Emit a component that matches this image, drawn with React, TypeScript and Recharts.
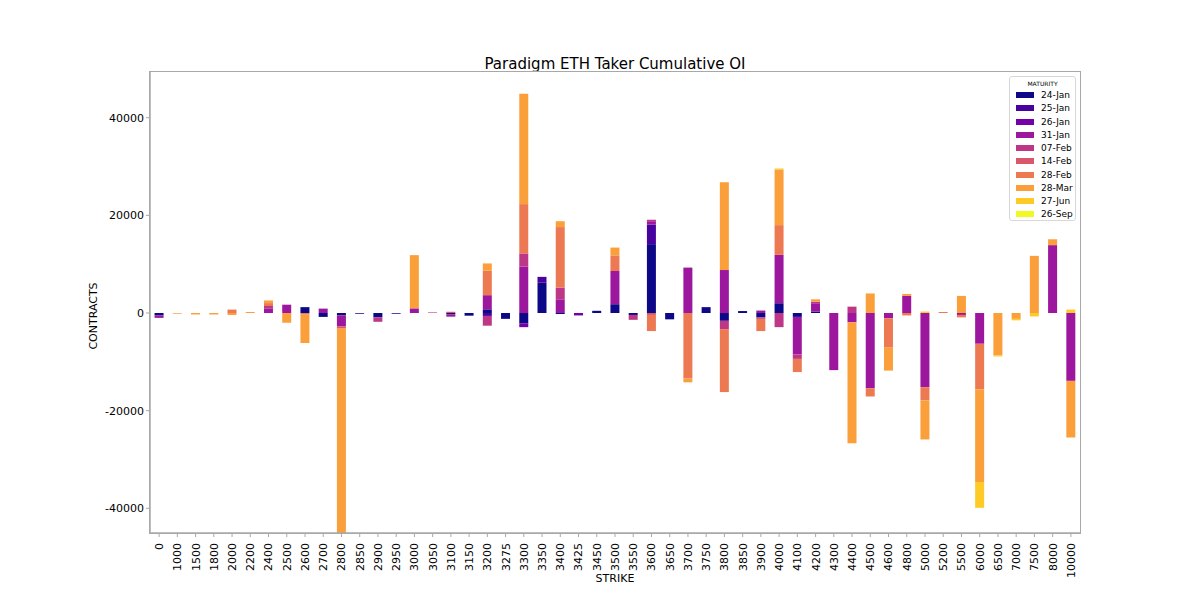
import React from "react";
import { BarChart, Bar, XAxis, YAxis } from "recharts";

const strikes = [
  "0", "1000", "1500", "1800", "2000", "2200", "2400", "2500", "2600", "2700",
  "2800", "2850", "2900", "2950", "3000", "3050", "3100", "3150", "3200", "3275",
  "3300", "3350", "3400", "3425", "3450", "3500", "3550", "3600", "3650", "3700",
  "3750", "3800", "3850", "3900", "4000", "4100", "4200", "4300", "4400", "4500",
  "4600", "4800", "5000", "5200", "5500", "6000", "6500", "7000", "7500", "8000",
  "10000",
];

const jan24 = [
  -500, 0, 0, 0, 0, 0, 0, 0, 1200, -800,
  -500, -150, -900, -150, 0, 0, -300, -550, 750, -1200,
  -2100, 6200, -200, 0, 450, 1800, -400, 14100, -1300, 0,
  1200, -1600, 400, -900, 2000, -800, 300, 0, 0, 0,
  0, 0, 0, 0, 0, 0, 0, 0, 0, 0,
  0,
];
const jan25 = [
  0, 0, 0, 0, 0, 0, 0, 0, 0, 0,
  0, 0, 0, 0, 0, 0, 0, 0, -600, 0,
  0, 1200, 0, 0, 0, 0, 0, 4000, 0, 0,
  0, 0, 0, 0, 0, 0, 0, 0, 0, 0,
  0, 0, 0, 0, 0, 0, 0, 0, 0, 0,
  0,
];
const jan26 = [
  0, 0, 0, 0, 0, 0, 0, 0, 0, 0,
  0, 0, 0, 0, 0, 0, 0, 0, 0, 0,
  -800, 0, 0, -500, 0, 0, 0, 0, 0, 0,
  0, 0, 0, 0, 0, 0, 0, 0, 0, 0,
  0, 0, 0, 0, 0, 0, 0, 0, 0, 0,
  0,
];
const jan31 = [
  -500, 0, 0, 0, 0, 0, 950, 1700, 0, 900,
  -2200, 0, 0, 0, 950, 0, -450, 0, 2900, 0,
  9500, 0, 2800, 0, 0, 6800, 0, 700, 0, 9300,
  0, 8800, 0, 500, 9900, -7700, 1700, -11700, -1900, -15400,
  -1100, 3500, -15200, 0, -400, -6300, 0, 0, 0, 13900,
  -13900,
];
const feb07 = [
  0, 0, 0, 0, 0, 0, 480, 0, 0, 0,
  0, 0, -900, 0, 0, 120, 0, 0, -2000, 0,
  2700, 0, 2400, 0, 0, 0, -1000, 300, 0, 0,
  0, -1700, 0, -300, -2900, -900, 300, 0, 1300, 0,
  0, 0, 0, 0, 0, 0, 0, 0, 0, 0,
  0,
];
const feb14 = [
  0, 0, 0, 0, 0, 0, 0, 0, 0, 0,
  -500, 0, 0, 0, 0, 0, 250, 0, 0, 0,
  0, 0, 0, 0, 0, 0, 0, -400, 0, 0,
  0, 0, 0, 0, 0, 0, 0, 0, 0, 0,
  0, 0, 0, 0, 0, 0, 0, 0, 0, 0,
  0,
];
const feb28 = [
  0, 0, 0, 0, 700, 0, 600, 0, -350, 0,
  0, 0, 0, 0, 0, 0, 0, 0, 5000, 0,
  10100, 0, 12400, 0, 0, 3200, 0, -3300, 0, -13400,
  0, -12900, 0, -2500, 6100, -2700, 0, 0, 0, -1700,
  -6000, -500, -2700, 200, -500, -9300, 0, 0, 0, 0,
  0,
];
const mar28 = [
  0, -150, -300, -300, -400, 200, 540, -2000, -5800, 0,
  -47000, 0, 0, 0, 10900, 0, 0, 0, 1500, 0,
  22600, 0, 1200, 0, 0, 1600, 0, 0, 0, -800,
  0, 18000, 0, 0, 11400, 0, 500, 0, -24800, 4000,
  -4700, 400, -8000, 0, 3500, -19000, -8700, -1200, 11700, 1200,
  -11600,
];
const jun27 = [
  0, 0, 0, 0, 0, 0, 0, 0, 0, 0,
  0, 0, 0, 0, 0, 0, 0, 0, 0, 0,
  0, 0, 0, 0, 0, 0, 0, 0, 0, 0,
  0, 0, 0, 0, 200, 0, 0, 0, 0, 0,
  0, 0, 300, 0, 0, -5300, -200, -300, -700, 0,
  700,
];
const sep26 = [
  0, 0, 0, 0, 0, 0, 0, 0, 0, 0,
  0, 0, 0, 0, 0, 0, 0, 0, 0, 0,
  0, 0, 0, 0, 0, 0, 0, 0, 0, 0,
  0, 0, 0, 0, 0, 0, 0, 0, 0, 0,
  0, 0, 0, 0, 0, 0, 0, 0, 0, 0,
  0,
];

const maturities = ["24-Jan", "25-Jan", "26-Jan", "31-Jan", "07-Feb", "14-Feb", "28-Feb", "28-Mar", "27-Jun", "26-Sep"];
const seriesValues = [jan24, jan25, jan26, jan31, feb07, feb14, feb28, mar28, jun27, sep26];
const colors = ["#0d0887", "#46039f", "#7201a8", "#9c179e", "#bd3786", "#d8576b", "#ed7953", "#fb9f3a", "#fdca26", "#f0f921"];
const yTicks = [-40000, -20000, 0, 20000, 40000];

const data = strikes.map((strike, i) => {
  const row: Record<string, string | number> = { strike };
  maturities.forEach((m, j) => (row[m] = seriesValues[j][i]));
  return row;
});

const FONT = "'DejaVu Sans', sans-serif";
const FRAME = "#a8a8a8";

function StrikeTick({ x, y, payload }: any) {
  const ty = y + 4;
  return (
    <text
      x={x}
      y={ty}
      dy="0.36em"
      textAnchor="end"
      transform={`rotate(-90, ${x}, ${ty})`}
      fontSize={11}
      fontFamily={FONT}
      fill="#000"
    >
      {payload.value}
    </text>
  );
}

export default function App() {
  return (
    <div style={{ position: "absolute", left: 0, top: 0, width: 1200, height: 600, background: "#fff", fontFamily: FONT }}>
      <div style={{ position: "absolute", left: 150, width: 930, top: 55, textAlign: "center", fontSize: 15, lineHeight: "18px", color: "#000" }}>
        Paradigm ETH Taker Cumulative OI
      </div>
      <div style={{ position: "absolute", left: 93, top: 316, transform: "translate(-50%, -50%) rotate(-90deg)", fontSize: 11, color: "#000", whiteSpace: "nowrap" }}>
        CONTRACTS
      </div>
      <div style={{ position: "absolute", left: 150, width: 930, top: 572, textAlign: "center", fontSize: 11, color: "#000" }}>
        STRIKE
      </div>

      <BarChart
        width={1200}
        height={600}
        data={data}
        stackOffset="sign"
        barCategoryGap="25%"
        margin={{ top: 72, right: 120, bottom: 0, left: 0 }}
      >
        <XAxis
          dataKey="strike"
          interval={0}
          height={67}
          tick={<StrikeTick />}
          tickSize={4}
          tickLine={{ stroke: FRAME }}
          axisLine={{ stroke: FRAME, strokeWidth: 1.5 }}
        />
        <YAxis
          width={150}
          domain={[-45060, 49360]}
          ticks={yTicks}
          allowDataOverflow
          tickSize={4}
          tickMargin={2}
          tickLine={{ stroke: FRAME }}
          axisLine={{ stroke: FRAME, strokeWidth: 1.5 }}
          tick={{ fontSize: 11, fill: "#000", fontFamily: FONT }}
        />
        {maturities.map((m, j) => (
          <Bar key={m} dataKey={m} stackId="oi" fill={colors[j]} isAnimationActive={false} />
        ))}
      </BarChart>

      {/* plot frame (top and right spines) */}
      <div
        style={{
          position: "absolute", left: 149.25, top: 71.25, width: 931.5, height: 462.5,
          border: `1.5px solid ${FRAME}`, boxSizing: "border-box", pointerEvents: "none",
        }}
      />

      <div
        style={{
          position: "absolute", left: 1009, top: 76, width: 67, height: 145,
          border: "1px solid #d8d8d8", borderRadius: 3, background: "#fff", boxSizing: "border-box",
        }}
      >
        <div style={{ textAlign: "center", fontSize: 6, marginTop: 3, color: "#000" }}>MATURITY</div>
        {maturities.map((m, j) => (
          <div key={m} style={{ position: "absolute", left: 6, top: 13 + j * 13.26, height: 10, display: "flex", alignItems: "center" }}>
            <span style={{ display: "inline-block", width: 18, height: 6, background: colors[j] }} />
            <span style={{ marginLeft: 7, fontSize: 9, color: "#000" }}>{m}</span>
          </div>
        ))}
      </div>
    </div>
  );
}
